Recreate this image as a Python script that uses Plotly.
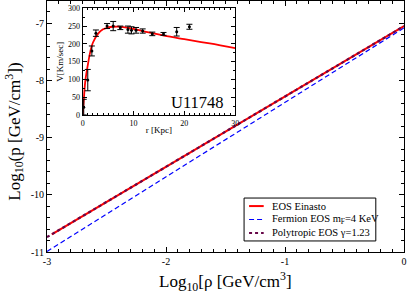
import plotly.graph_objects as go

# Main panel data (log10 rho, log10 p)
einasto_x = [-2.96, 0.0]
einasto_y = [-10.69, -7.05]
fermion_x = [-3.0, 0.0]
fermion_y = [-10.99, -7.08]
poly_x = [-3.0, 0.0]
poly_y = [-10.74, -7.05]

# Inset: rotation curve data of U11748
r_obs = [0.2, 1.0, 1.8, 2.6, 4.8, 6.0, 7.4, 8.9, 9.6, 10.5, 11.8, 13.7, 15.9, 18.5, 21.0]
v_obs = [22, 98, 180, 230, 250, 250, 245, 240, 238, 238, 236, 228, 228, 234, 248]
v_err = [22, 30, 14, 9, 7, 13, 5, 10, 10, 8, 6, 5, 4, 12, 7]
r_fit = [0, 0.15, 0.5, 1, 1.5, 2, 3, 4, 5, 6, 7, 8, 10, 13, 16, 20, 25, 30]
v_fit = [0, 28, 94, 140, 178, 203, 228, 241, 246, 248, 248.5, 247, 242, 232, 223, 213, 201, 188]

x_ticks = [-3, -2, -1, 0]
x_ticktext = ["-3", "-2", "-1", "0"]
y_ticks = [-11, -10, -9, -8, -7]
y_ticktext = ["-11", "-10", "-9", "-8", "-7"]

legend_names = ["EOS Einasto", "Fermion EOS m<sub>F</sub>=4 KeV", "Polytropic EOS γ=1.23"]

SERIF = "Liberation Serif, Times New Roman, serif"

styles = [dict(color="#ff0000", width=2),
          dict(color="#0000ff", width=1.2, dash="5px,3px"),
          dict(color="#670748", width=2.2, dash="dot")]

fig = go.Figure()
fig.add_trace(go.Scatter(x=einasto_x, y=einasto_y, mode="lines", name=legend_names[0],
                         line=styles[0], showlegend=False))
fig.add_trace(go.Scatter(x=fermion_x, y=fermion_y, mode="lines", name=legend_names[1],
                         line=styles[1], showlegend=False))
fig.add_trace(go.Scatter(x=poly_x, y=poly_y, mode="lines", name=legend_names[2],
                         line=styles[2], showlegend=False))

# inset
fig.add_trace(go.Scatter(x=r_fit, y=v_fit, mode="lines", xaxis="x2", yaxis="y2",
                         line=dict(color="#ff0000", width=1.8, shape="spline"), showlegend=False))
fig.add_trace(go.Scatter(x=r_obs, y=v_obs, mode="markers", xaxis="x2", yaxis="y2",
                         marker=dict(color="black", size=3),
                         error_y=dict(type="data", array=v_err, color="black", thickness=1, width=3),
                         showlegend=False))

def axis_common(ticklen):
    return dict(showline=True, linecolor="black", linewidth=1, mirror="allticks",
                ticks="inside", tickcolor="black", ticklen=ticklen, showgrid=False,
                zeroline=False, automargin=False)

# hand-drawn legend box (paper coordinates)
shapes = [dict(type="rect", xref="paper", yref="paper", x0=0.552, x1=0.921, y0=0.044, y1=0.215,
               line=dict(color="black", width=1), fillcolor="white", layer="above")]
annotations = []
row_y = [0.183, 0.1295, 0.0757]
for name, st, yy in zip(legend_names, styles, row_y):
    shapes.append(dict(type="line", xref="paper", yref="paper", x0=0.566, x1=0.607, y0=yy, y1=yy,
                       line=st, layer="above"))
    annotations.append(dict(text=name, xref="paper", yref="paper", x=0.626, y=yy,
                            xanchor="left", yanchor="middle", showarrow=False,
                            font=dict(size=10.5, family=SERIF)))

annotations += [
    dict(text="U11748", xref="x2", yref="y2", x=28.2, y=3, xanchor="right",
         yanchor="bottom", showarrow=False, font=dict(size=16.5, family=SERIF)),
    dict(text="Log<sub>10</sub>[ρ [GeV/cm<sup>3</sup>]", xref="paper", yref="paper",
         x=0.5, y=-0.06, xanchor="center", yanchor="top", showarrow=False,
         font=dict(size=17, family=SERIF)),
    dict(text="Log<sub>10</sub>(p [GeV/cm<sup>3</sup>])", xref="paper", yref="paper",
         x=-0.092, y=0.48, xanchor="center", yanchor="middle", textangle=-90, showarrow=False,
         font=dict(size=17, family=SERIF)),
]

fig.update_layout(
    template="none",
    width=407, height=293,
    margin=dict(l=47, r=3, t=1, b=41, autoexpand=False),
    paper_bgcolor="white", plot_bgcolor="white",
    font=dict(family=SERIF, color="black", size=10),
    showlegend=False,
    xaxis=dict(range=[-3, 0], tickvals=x_ticks, ticktext=x_ticktext,
               minor=dict(dtick=0.1, ticks="inside", ticklen=3, tickcolor="black"),
               tickfont=dict(size=10), **axis_common(5)),
    yaxis=dict(range=[-11, -6.61], tickvals=y_ticks, ticktext=y_ticktext,
               minor=dict(dtick=0.2, ticks="inside", ticklen=3, tickcolor="black"),
               tickfont=dict(size=10), **axis_common(5)),
    xaxis2=dict(domain=[0.1, 0.527], anchor="y2", range=[0, 30], tickvals=[0, 10, 20, 30],
                minor=dict(dtick=1, ticks="inside", ticklen=2, tickcolor="black"),
                title=dict(text="r [Kpc]", font=dict(size=9), standoff=0),
                tickfont=dict(size=8), **axis_common(4)),
    yaxis2=dict(domain=[0.546, 0.971], anchor="x2", range=[0, 300],
                tickvals=[0, 50, 100, 150, 200, 250, 300],
                minor=dict(dtick=25, ticks="inside", ticklen=2, tickcolor="black"),
                title=dict(text="V[Km/sec]", font=dict(size=9), standoff=2),
                tickfont=dict(size=8), **axis_common(4)),
    shapes=shapes,
    annotations=annotations,
)

fig.write_html("out.html", config={"displayModeBar": False},
               post_script="document.body.style.margin='0';document.body.style.padding='0';")
